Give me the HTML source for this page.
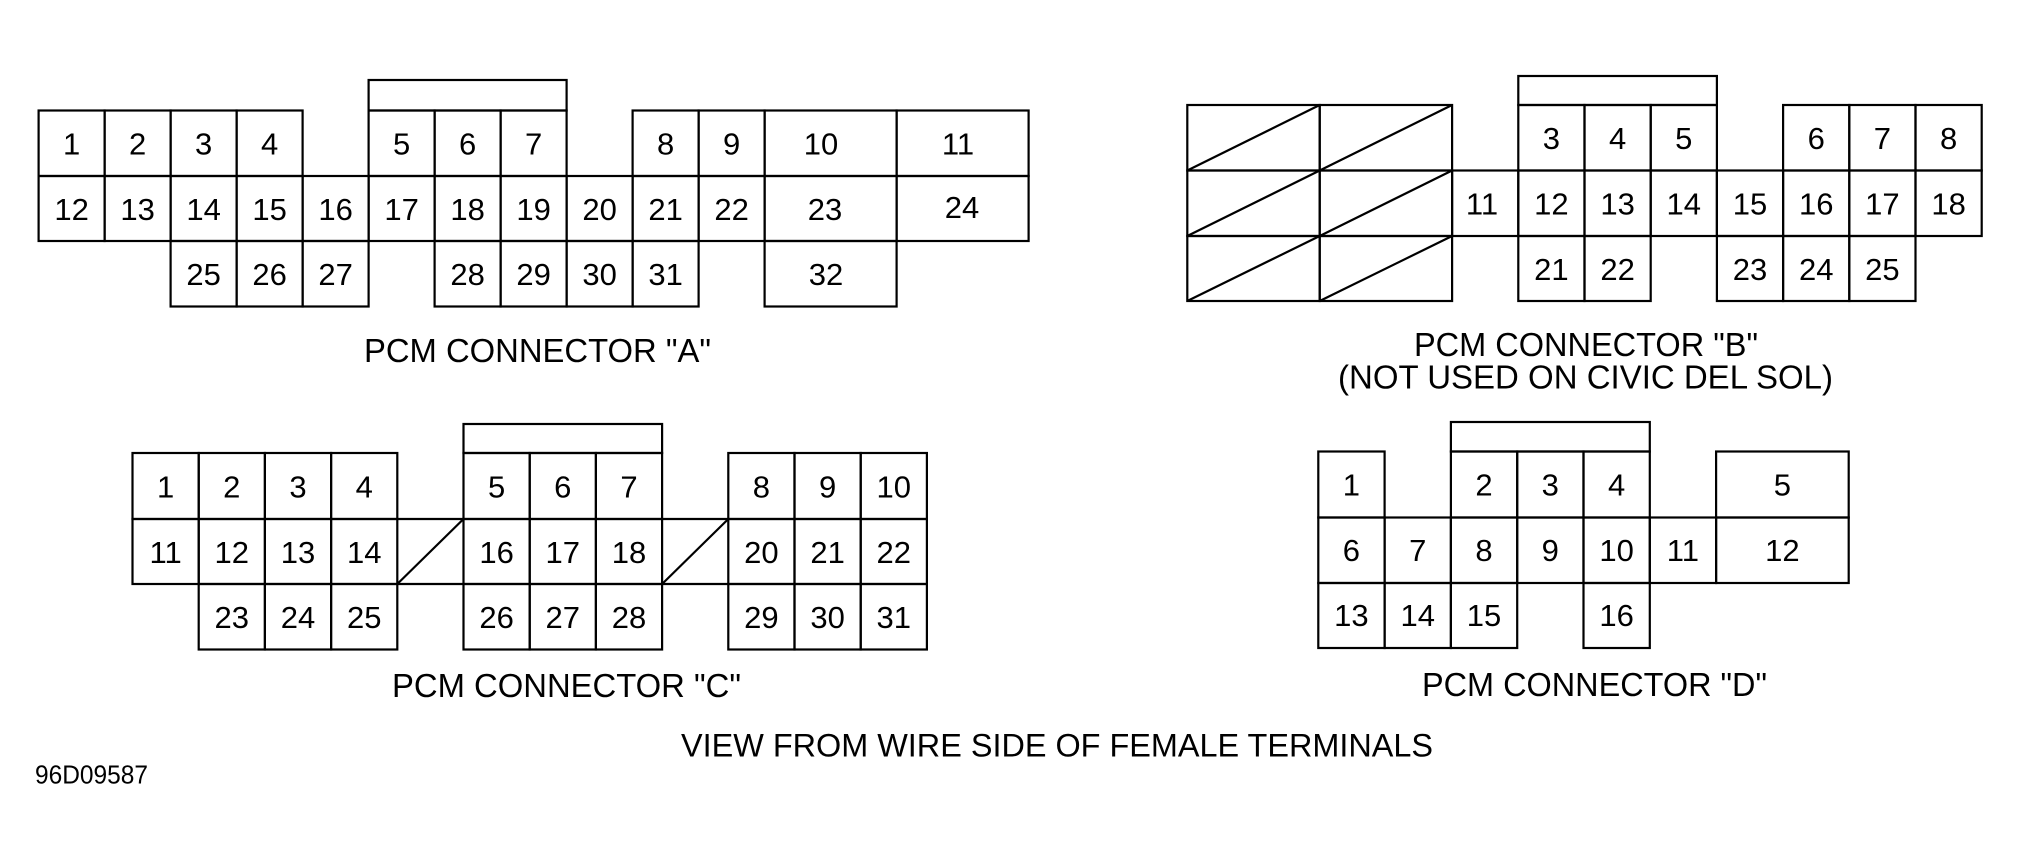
<!DOCTYPE html>
<html><head><meta charset="utf-8"><style>
html,body{margin:0;padding:0;background:#fff;}
svg{display:block;}
</style></head><body>
<svg xmlns="http://www.w3.org/2000/svg" width="2020" height="859" viewBox="0 0 2020 859">
<rect width="2020" height="859" fill="#fff"/>
<g fill="none" stroke="#000" stroke-width="2.2">
<!-- Connector A -->
<rect x="368.6" y="80" width="198" height="30.5"/>
<rect x="38.6" y="110.5" width="66" height="65.5"/>
<rect x="104.6" y="110.5" width="66" height="65.5"/>
<rect x="170.6" y="110.5" width="66" height="65.5"/>
<rect x="236.6" y="110.5" width="66" height="65.5"/>
<rect x="368.6" y="110.5" width="66" height="65.5"/>
<rect x="434.6" y="110.5" width="66" height="65.5"/>
<rect x="500.6" y="110.5" width="66" height="65.5"/>
<rect x="632.6" y="110.5" width="66" height="65.5"/>
<rect x="698.6" y="110.5" width="66" height="65.5"/>
<rect x="764.6" y="110.5" width="132" height="65.5"/>
<rect x="896.6" y="110.5" width="132" height="65.5"/>
<rect x="38.6" y="176" width="66" height="65"/>
<rect x="104.6" y="176" width="66" height="65"/>
<rect x="170.6" y="176" width="66" height="65"/>
<rect x="236.6" y="176" width="66" height="65"/>
<rect x="302.6" y="176" width="66" height="65"/>
<rect x="368.6" y="176" width="66" height="65"/>
<rect x="434.6" y="176" width="66" height="65"/>
<rect x="500.6" y="176" width="66" height="65"/>
<rect x="566.6" y="176" width="66" height="65"/>
<rect x="632.6" y="176" width="66" height="65"/>
<rect x="698.6" y="176" width="66" height="65"/>
<rect x="764.6" y="176" width="132" height="65"/>
<rect x="896.6" y="176" width="132" height="65"/>
<rect x="170.6" y="241" width="66" height="65.5"/>
<rect x="236.6" y="241" width="66" height="65.5"/>
<rect x="302.6" y="241" width="66" height="65.5"/>
<rect x="434.6" y="241" width="66" height="65.5"/>
<rect x="500.6" y="241" width="66" height="65.5"/>
<rect x="566.6" y="241" width="66" height="65.5"/>
<rect x="632.6" y="241" width="66" height="65.5"/>
<rect x="764.6" y="241" width="132" height="65.5"/>

<!-- Connector B -->
<rect x="1518.3" y="76" width="198.6" height="29"/>
<rect x="1187.3" y="105" width="132.4" height="65.5"/>
<rect x="1319.7" y="105" width="132.4" height="65.5"/>
<rect x="1187.3" y="170.5" width="132.4" height="65.5"/>
<rect x="1319.7" y="170.5" width="132.4" height="65.5"/>
<rect x="1187.3" y="236" width="132.4" height="65"/>
<rect x="1319.7" y="236" width="132.4" height="65"/>
<line x1="1187.3" y1="170.5" x2="1319.7" y2="105"/>
<line x1="1319.7" y1="170.5" x2="1452.1" y2="105"/>
<line x1="1187.3" y1="236" x2="1319.7" y2="170.5"/>
<line x1="1319.7" y1="236" x2="1452.1" y2="170.5"/>
<line x1="1187.3" y1="301" x2="1319.7" y2="236"/>
<line x1="1319.7" y1="301" x2="1452.1" y2="236"/>
<rect x="1518.3" y="105" width="66.2" height="65.5"/>
<rect x="1584.5" y="105" width="66.2" height="65.5"/>
<rect x="1650.7" y="105" width="66.2" height="65.5"/>
<rect x="1783.1" y="105" width="66.2" height="65.5"/>
<rect x="1849.3" y="105" width="66.2" height="65.5"/>
<rect x="1915.5" y="105" width="66.2" height="65.5"/>
<rect x="1452.1" y="170.5" width="66.2" height="65.5"/>
<rect x="1518.3" y="170.5" width="66.2" height="65.5"/>
<rect x="1584.5" y="170.5" width="66.2" height="65.5"/>
<rect x="1650.7" y="170.5" width="66.2" height="65.5"/>
<rect x="1716.9" y="170.5" width="66.2" height="65.5"/>
<rect x="1783.1" y="170.5" width="66.2" height="65.5"/>
<rect x="1849.3" y="170.5" width="66.2" height="65.5"/>
<rect x="1915.5" y="170.5" width="66.2" height="65.5"/>
<rect x="1518.3" y="236" width="66.2" height="65"/>
<rect x="1584.5" y="236" width="66.2" height="65"/>
<rect x="1716.9" y="236" width="66.2" height="65"/>
<rect x="1783.1" y="236" width="66.2" height="65"/>
<rect x="1849.3" y="236" width="66.2" height="65"/>

<!-- Connector C -->
<rect x="463.5" y="424" width="198.6" height="29"/>
<rect x="132.5" y="453" width="66.2" height="66"/>
<rect x="198.7" y="453" width="66.2" height="66"/>
<rect x="264.9" y="453" width="66.2" height="66"/>
<rect x="331.1" y="453" width="66.2" height="66"/>
<rect x="463.5" y="453" width="66.2" height="66"/>
<rect x="529.7" y="453" width="66.2" height="66"/>
<rect x="595.9" y="453" width="66.2" height="66"/>
<rect x="728.3" y="453" width="66.2" height="66"/>
<rect x="794.5" y="453" width="66.2" height="66"/>
<rect x="860.7" y="453" width="66.2" height="66"/>
<rect x="132.5" y="519" width="66.2" height="65"/>
<rect x="198.7" y="519" width="66.2" height="65"/>
<rect x="264.9" y="519" width="66.2" height="65"/>
<rect x="331.1" y="519" width="66.2" height="65"/>
<rect x="463.5" y="519" width="66.2" height="65"/>
<rect x="529.7" y="519" width="66.2" height="65"/>
<rect x="595.9" y="519" width="66.2" height="65"/>
<rect x="728.3" y="519" width="66.2" height="65"/>
<rect x="794.5" y="519" width="66.2" height="65"/>
<rect x="860.7" y="519" width="66.2" height="65"/>
<rect x="198.7" y="584" width="66.2" height="65.5"/>
<rect x="264.9" y="584" width="66.2" height="65.5"/>
<rect x="331.1" y="584" width="66.2" height="65.5"/>
<rect x="463.5" y="584" width="66.2" height="65.5"/>
<rect x="529.7" y="584" width="66.2" height="65.5"/>
<rect x="595.9" y="584" width="66.2" height="65.5"/>
<rect x="728.3" y="584" width="66.2" height="65.5"/>
<rect x="794.5" y="584" width="66.2" height="65.5"/>
<rect x="860.7" y="584" width="66.2" height="65.5"/>
<line x1="397.3" y1="519" x2="463.5" y2="519"/>
<line x1="397.3" y1="584" x2="463.5" y2="584"/>
<line x1="397.3" y1="584" x2="463.5" y2="519"/>
<line x1="662.1" y1="519" x2="728.3" y2="519"/>
<line x1="662.1" y1="584" x2="728.3" y2="584"/>
<line x1="662.1" y1="584" x2="728.3" y2="519"/>

<!-- Connector D -->
<rect x="1450.9" y="422" width="198.9" height="29.5"/>
<rect x="1318.3" y="451.5" width="66.3" height="66"/>
<rect x="1450.9" y="451.5" width="66.3" height="66"/>
<rect x="1517.2" y="451.5" width="66.3" height="66"/>
<rect x="1583.5" y="451.5" width="66.3" height="66"/>
<rect x="1716.1" y="451.5" width="132.6" height="66"/>
<rect x="1318.3" y="517.5" width="66.3" height="65.5"/>
<rect x="1384.6" y="517.5" width="66.3" height="65.5"/>
<rect x="1450.9" y="517.5" width="66.3" height="65.5"/>
<rect x="1517.2" y="517.5" width="66.3" height="65.5"/>
<rect x="1583.5" y="517.5" width="66.3" height="65.5"/>
<rect x="1649.8" y="517.5" width="66.3" height="65.5"/>
<rect x="1716.1" y="517.5" width="132.6" height="65.5"/>
<rect x="1318.3" y="583" width="66.3" height="65"/>
<rect x="1384.6" y="583" width="66.3" height="65"/>
<rect x="1450.9" y="583" width="66.3" height="65"/>
<rect x="1583.5" y="583" width="66.3" height="65"/>
</g>

<g font-family="Liberation Sans, Arial, sans-serif" font-size="31" fill="#000" text-anchor="middle">
<!-- A numbers -->
<text x="71.6" y="154.3">1</text>
<text x="137.6" y="154.3">2</text>
<text x="203.6" y="154.3">3</text>
<text x="269.6" y="154.3">4</text>
<text x="401.6" y="154.3">5</text>
<text x="467.6" y="154.3">6</text>
<text x="533.6" y="154.3">7</text>
<text x="665.6" y="154.3">8</text>
<text x="731.6" y="154.3">9</text>
<text x="821" y="154.3">10</text>
<text x="958" y="154.3">11</text>
<text x="71.6" y="220">12</text>
<text x="137.6" y="220">13</text>
<text x="203.6" y="220">14</text>
<text x="269.6" y="220">15</text>
<text x="335.6" y="220">16</text>
<text x="401.6" y="220">17</text>
<text x="467.6" y="220">18</text>
<text x="533.6" y="220">19</text>
<text x="599.6" y="220">20</text>
<text x="665.6" y="220">21</text>
<text x="731.6" y="220">22</text>
<text x="825" y="220">23</text>
<text x="962" y="218">24</text>
<text x="203.6" y="284.8">25</text>
<text x="269.6" y="284.8">26</text>
<text x="335.6" y="284.8">27</text>
<text x="467.6" y="284.8">28</text>
<text x="533.6" y="284.8">29</text>
<text x="599.6" y="284.8">30</text>
<text x="665.6" y="284.8">31</text>
<text x="826" y="284.8">32</text>
<!-- B numbers -->
<text x="1551.4" y="149">3</text>
<text x="1617.6" y="149">4</text>
<text x="1683.8" y="149">5</text>
<text x="1816.2" y="149">6</text>
<text x="1882.4" y="149">7</text>
<text x="1948.6" y="149">8</text>
<text x="1482" y="214.5">11</text>
<text x="1551.4" y="214.5">12</text>
<text x="1617.6" y="214.5">13</text>
<text x="1683.8" y="214.5">14</text>
<text x="1750" y="214.5">15</text>
<text x="1816.2" y="214.5">16</text>
<text x="1882.4" y="214.5">17</text>
<text x="1948.6" y="214.5">18</text>
<text x="1551.4" y="280">21</text>
<text x="1617.6" y="280">22</text>
<text x="1750" y="280">23</text>
<text x="1816.2" y="280">24</text>
<text x="1882.4" y="280">25</text>
<!-- C numbers -->
<text x="165.6" y="497.5">1</text>
<text x="231.8" y="497.5">2</text>
<text x="298" y="497.5">3</text>
<text x="364.2" y="497.5">4</text>
<text x="496.6" y="497.5">5</text>
<text x="562.8" y="497.5">6</text>
<text x="629" y="497.5">7</text>
<text x="761.4" y="497.5">8</text>
<text x="827.6" y="497.5">9</text>
<text x="893.8" y="497.5">10</text>
<text x="165.6" y="563">11</text>
<text x="231.8" y="563">12</text>
<text x="298" y="563">13</text>
<text x="364.2" y="563">14</text>
<text x="496.6" y="563">16</text>
<text x="562.8" y="563">17</text>
<text x="629" y="563">18</text>
<text x="761.4" y="563">20</text>
<text x="827.6" y="563">21</text>
<text x="893.8" y="563">22</text>
<text x="231.8" y="628">23</text>
<text x="298" y="628">24</text>
<text x="364.2" y="628">25</text>
<text x="496.6" y="628">26</text>
<text x="562.8" y="628">27</text>
<text x="629" y="628">28</text>
<text x="761.4" y="628">29</text>
<text x="827.6" y="628">30</text>
<text x="893.8" y="628">31</text>
<!-- D numbers -->
<text x="1351.4" y="495.5">1</text>
<text x="1484" y="495.5">2</text>
<text x="1550.3" y="495.5">3</text>
<text x="1616.6" y="495.5">4</text>
<text x="1782.4" y="495.5">5</text>
<text x="1351.4" y="561">6</text>
<text x="1417.7" y="561">7</text>
<text x="1484" y="561">8</text>
<text x="1550.3" y="561">9</text>
<text x="1616.6" y="561">10</text>
<text x="1682.9" y="561">11</text>
<text x="1782.4" y="561">12</text>
<text x="1351.4" y="626">13</text>
<text x="1417.7" y="626">14</text>
<text x="1484" y="626">15</text>
<text x="1616.6" y="626">16</text>
</g>

<g font-family="Liberation Sans, Arial, sans-serif" font-size="33.5" fill="#000">
<text x="364" y="362" textLength="347" lengthAdjust="spacingAndGlyphs">PCM CONNECTOR "A"</text>
<text x="1414" y="356" textLength="344" lengthAdjust="spacingAndGlyphs">PCM CONNECTOR "B"</text>
<text x="1338" y="388.5" textLength="495" lengthAdjust="spacingAndGlyphs">(NOT USED ON CIVIC DEL SOL)</text>
<text x="392" y="697" textLength="349" lengthAdjust="spacingAndGlyphs">PCM CONNECTOR "C"</text>
<text x="1422" y="696" textLength="345" lengthAdjust="spacingAndGlyphs">PCM CONNECTOR "D"</text>
<text x="681" y="756.5" font-size="32.5" textLength="752" lengthAdjust="spacingAndGlyphs">VIEW FROM WIRE SIDE OF FEMALE TERMINALS</text>
<text x="35" y="783.3" font-size="25.5" textLength="113" lengthAdjust="spacingAndGlyphs">96D09587</text>
</g>
</svg>
</body></html>
